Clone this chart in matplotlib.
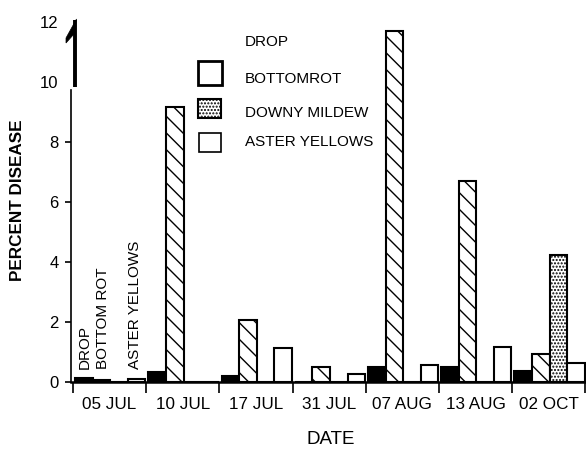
import matplotlib
matplotlib.use('Agg')
import matplotlib.pyplot as plt
from matplotlib.patches import Rectangle, Polygon

plt.rcParams['font.family'] = ['Liberation Sans', 'DejaVu Sans']
plt.rcParams['hatch.linewidth'] = 1.0

dates = ['05 JUL', '10 JUL', '17 JUL', '31 JUL', '07 AUG', '13 AUG', '02 OCT']
drop = [0.13, 0.33, 0.19, 0.0, 0.48, 0.48, 0.37]
bottomrot = [0.05, 9.17, 2.05, 0.5, 11.7, 6.7, 0.93]
downy_mildew = [0.0, 0.0, 0.0, 0.0, 0.0, 0.0, 4.23]
aster_yellows = [0.1, 0.0, 1.12, 0.26, 0.55, 1.15, 0.63]
yticks = [0, 2, 4, 6, 8, 10, 12]

W, H = 586, 451
fig = plt.figure(figsize=(W / 100, H / 100), dpi=100)
ax = fig.add_axes([71 / W, (H - 381.7) / H, (W - 71) / W, 360 / H])
x0 = (71 - 73) / 73.2
ax.set_xlim(x0, (586 - 73) / 73.2)
ax.set_ylim(0, 12)

def px(xp, yp):
    """pixel -> data coordinates"""
    return (xp - 73) / 73.2, (381.7 - yp) / 30.0

slot = 0.24
off = 0.03
series = [
    (drop, dict(facecolor='black', edgecolor='black')),
    (bottomrot, dict(facecolor='white', edgecolor='black', hatch='\\\\')),
    (downy_mildew, dict(facecolor='white', edgecolor='black', hatch='.....')),
    (aster_yellows, dict(facecolor='white', edgecolor='black')),
]
for j, (vals, style) in enumerate(series):
    xs = [i + off + slot * j for i in range(len(dates))]
    ax.bar(xs, vals, width=slot, align='edge', linewidth=1.5, **style, zorder=2)

for s in ['top', 'right', 'left']:
    ax.spines[s].set_visible(False)
ax.spines['bottom'].set_linewidth(1.8)

# custom broken y axis
ax.plot([x0, x0], [0, 9.72], color='black', lw=1.2, clip_on=False, zorder=3)
xa, ya = px(75, 87)
xb, yb = px(75, 20)
ax.plot([xa, xb], [ya, yb], color='black', lw=2.8, clip_on=False, solid_capstyle='butt')
hook = [px(76.5, 19), px(66, 38), px(66, 43), px(74, 34)]
ax.add_patch(Polygon(hook, closed=True, facecolor='black', edgecolor='black', lw=0.5, clip_on=False))

ax.set_yticks(yticks)
ax.set_yticklabels([str(v) for v in yticks], fontsize=12)
ax.tick_params(axis='y', direction='out', length=4, width=1.2, pad=5)
for t in ax.yaxis.get_major_ticks():
    if t.get_loc() >= 10:
        t.tick1line.set_visible(False)

ax.set_xticks(range(len(dates) + 1))
ax.set_xticklabels([''] * (len(dates) + 1))
ax.tick_params(axis='x', which='major', direction='out', length=8, width=1.2)
ax.set_xticks([i + 0.5 for i in range(len(dates))], minor=True)
ax.set_xticklabels(dates, minor=True, fontsize=12.3)
ax.tick_params(axis='x', which='minor', length=0, pad=11)

fig.text(17.5 / W, 1 - 200 / H, 'PERCENT DISEASE', rotation=90, ha='center', va='center',
         fontsize=12.3, fontweight='bold')
fig.text(331 / W, 1 - 440 / H, 'DATE', ha='center', va='center', fontsize=13.5)

# vertical labels at 05 JUL
for xp, txt in [(85, 'DROP'), (103, 'BOTTOM ROT'), (135, 'ASTER YELLOWS')]:
    xd, yd = px(xp, 369)
    ax.text(xd, yd, txt, rotation=90, ha='center', va='bottom', fontsize=11)

# legend
def fx(xp):
    return xp / W

def fy(yp):
    return 1 - yp / H

fig.text(fx(245), fy(42), 'DROP', ha='left', va='center', fontsize=11)
fig.text(fx(245), fy(79), 'BOTTOMROT', ha='left', va='center', fontsize=11)
fig.text(fx(245), fy(113), 'DOWNY MILDEW', ha='left', va='center', fontsize=11)
fig.text(fx(245), fy(142), 'ASTER YELLOWS', ha='left', va='center', fontsize=11)
fig.patches.append(Rectangle((fx(198), fy(85)), 24 / W, 24 / H, transform=fig.transFigure,
                             facecolor='white', edgecolor='black', lw=2.0))
fig.patches.append(Rectangle((fx(198), fy(118)), 23 / W, 19 / H, transform=fig.transFigure,
                             facecolor='white', edgecolor='black', lw=1.5, hatch='.....'))
fig.patches.append(Rectangle((fx(199), fy(152)), 22 / W, 19 / H, transform=fig.transFigure,
                             facecolor='white', edgecolor='black', lw=1.2))

fig.savefig('out.png', dpi=100)
